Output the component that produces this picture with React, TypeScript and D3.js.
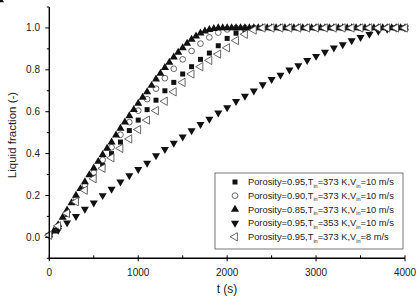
import React, { useEffect, useRef } from 'react';
import * as d3 from 'd3';

// sample times (s)
const times = d3.range(0, 4001, 100);
const timesFine = d3.range(0, 4001, 50);

// liquid fraction per case
const sq95 = [0.01, 0.05, 0.11, 0.17, 0.23, 0.29, 0.345, 0.4, 0.455, 0.51, 0.56, 0.61, 0.655, 0.7, 0.74, 0.78, 0.815, 0.85, 0.88, 0.915, 0.95, 0.975, 0.99, 1.0,
  1.0, 1.0, 1.0, 1.0, 1.0, 1.0, 1.0, 1.0, 1.0, 1.0, 1.0, 1.0, 1.0, 1.0, 1.0, 1.0, 1.0];
const circ90 = [0.01, 0.055, 0.12, 0.185, 0.25, 0.31, 0.37, 0.43, 0.49, 0.55, 0.605, 0.66, 0.71, 0.76, 0.805, 0.85, 0.89, 0.925, 0.955, 0.978, 0.993, 1.0,
  1.0, 1.0, 1.0, 1.0, 1.0, 1.0, 1.0, 1.0, 1.0, 1.0, 1.0, 1.0, 1.0, 1.0, 1.0, 1.0, 1.0, 1.0, 1.0];
// this case was saved every 50 s
const up85 = [0.01, 0.03, 0.06, 0.095, 0.13, 0.165, 0.2, 0.232, 0.265, 0.298, 0.33, 0.362, 0.395, 0.425, 0.455, 0.488, 0.52, 0.55, 0.58, 0.61,
  0.64, 0.668, 0.695, 0.725, 0.755, 0.783, 0.81, 0.835, 0.86, 0.883, 0.905, 0.926, 0.945, 0.961, 0.975, 0.985, 0.992, 0.997, 1.0,
  1.0, 1.0, 1.0, 1.0, 1.0, 1.0, 1.0, 1.0, 1.0, 1.0, 1.0, 1.0, 1.0, 1.0, 1.0, 1.0, 1.0, 1.0, 1.0, 1.0, 1.0, 1.0,
  1.0, 1.0, 1.0, 1.0, 1.0, 1.0, 1.0, 1.0, 1.0, 1.0, 1.0, 1.0, 1.0, 1.0, 1.0, 1.0, 1.0, 1.0, 1.0, 1.0, 1.0];
const down353 = [0.01, 0.035, 0.07, 0.1, 0.135, 0.165, 0.2, 0.23, 0.265, 0.295, 0.325, 0.355, 0.39, 0.42, 0.45, 0.48, 0.51, 0.54, 0.565, 0.595,
  0.62, 0.65, 0.675, 0.7, 0.73, 0.755, 0.775, 0.8, 0.82, 0.845, 0.865, 0.885, 0.905, 0.92, 0.94, 0.955, 0.97, 0.985, 0.995, 1.0, 1.0];
const left8 = [0.01, 0.055, 0.115, 0.17, 0.225, 0.28, 0.33, 0.38, 0.425, 0.47, 0.515, 0.56, 0.605, 0.65, 0.695, 0.74, 0.78, 0.815, 0.845, 0.875,
  0.905, 0.94, 0.97, 0.99, 1.0, 1.0, 1.0, 1.0, 1.0, 1.0, 1.0, 1.0, 1.0, 1.0, 1.0, 1.0, 1.0, 1.0, 1.0, 1.0, 1.0];

const legendLabels = [
  ['0.95', '373', '10'],
  ['0.90', '373', '10'],
  ['0.85', '373', '10'],
  ['0.95', '353', '10'],
  ['0.95', '373', '8'],
];

const xTicks = [0, 1000, 2000, 3000, 4000];
const yTicks = [0.0, 0.2, 0.4, 0.6, 0.8, 1.0];

const App = () => {
  const svgRef = useRef<SVGSVGElement>(null);

  useEffect(() => {
    const svg = d3.select(svgRef.current);
    svg.selectAll('*').remove();

    const x = d3.scaleLinear().domain([0, 4000]).range([49.3, 405]);
    const y = d3.scaleLinear().domain([-0.1, 1.1]).range([258.3, 7]);
    const font = 'Liberation Sans, Arial, sans-serif';
    const ink = '#000';

    // series definitions: marker type + fill
    const series = [
      { ts: times, vals: sq95, sym: d3.symbolSquare, size: 25, rot: 0, filled: true },
      { ts: times, vals: circ90, sym: d3.symbolCircle, size: 26, rot: 0, filled: false },
      { ts: timesFine, vals: up85, sym: d3.symbolTriangle, size: 28, rot: 0, filled: true },
      { ts: times, vals: down353, sym: d3.symbolTriangle, size: 28, rot: 180, filled: true },
      { ts: times, vals: left8, sym: d3.symbolTriangle, size: 30, rot: -90, filled: false },
    ];

    const drawMarker = (g, s, cx, cy) => {
      g.append('path')
        .attr('d', d3.symbol().type(s.sym).size(s.size)())
        .attr('transform', `translate(${cx},${cy}) rotate(${s.rot})`)
        .attr('fill', s.filled ? '#111' : '#fff')
        .attr('stroke', s.filled ? 'none' : '#444')
        .attr('stroke-width', 0.8);
    };

    const plot = svg.append('g');
    series.forEach(s => {
      s.vals.forEach((v, i) => drawMarker(plot, s, x(s.ts[i]), y(v)));
    });

    // axes
    const ax = svg.append('g').attr('stroke', ink).attr('stroke-width', 1.4);
    ax.append('line').attr('x1', x(0)).attr('x2', x(0)).attr('y1', y(1.1)).attr('y2', y(-0.1) + 1);
    ax.append('line').attr('x1', x(0)).attr('x2', x(4000)).attr('y1', y(-0.1)).attr('y2', y(-0.1));

    d3.range(-1, 12).forEach(k => {
      const major = k % 2 === 0;
      ax.append('line')
        .attr('x1', x(0) - (major ? 4 : 2.5)).attr('x2', x(0))
        .attr('y1', y(k / 10)).attr('y2', y(k / 10)).attr('stroke-width', 1);
    });
    d3.range(0, 4001, 500).forEach(t => {
      const major = t % 1000 === 0;
      ax.append('line')
        .attr('x1', x(t)).attr('x2', x(t))
        .attr('y1', y(-0.1) - 3).attr('y2', y(-0.1) + (major ? 3 : 0))
        .attr('stroke-width', 1);
    });

    svg.append('g').selectAll('text').data(yTicks).enter().append('text')
      .attr('x', 40).attr('y', d => y(d) + 3.5)
      .attr('text-anchor', 'end')
      .style('font-family', font).style('font-size', '10px').style('fill', '#222')
      .text(d => d.toFixed(1));

    svg.append('g').selectAll('text').data(xTicks).enter().append('text')
      .attr('x', d => x(d)).attr('y', 275.5)
      .attr('text-anchor', 'middle')
      .style('font-family', font).style('font-size', '10px').style('fill', '#222')
      .text(d => d);

    svg.append('text')
      .attr('transform', `translate(16,${135}) rotate(-90)`)
      .attr('text-anchor', 'middle')
      .style('font-family', font).style('font-size', '11.5px').style('fill', '#222')
      .text('Liquid fraction (-)');

    svg.append('text')
      .attr('x', 227).attr('y', 293)
      .attr('text-anchor', 'middle')
      .style('font-family', font).style('font-size', '12px').style('fill', '#222')
      .text('t (s)');

    // legend
    const lg = svg.append('g');
    lg.append('rect')
      .attr('x', 215).attr('y', 173).attr('width', 188).attr('height', 76)
      .attr('fill', '#fff').attr('stroke', '#555').attr('stroke-width', 0.8);
    legendLabels.forEach((lab, i) => {
      const ry = 182 + i * 13.7;
      drawMarker(lg, series[i], 235, ry);
      const t = lg.append('text')
        .attr('x', 248).attr('y', ry + 3.2)
        .style('font-family', font).style('font-size', '9.3px').style('fill', '#222');
      t.append('tspan').text(`Porosity=${lab[0]},T`);
      t.append('tspan').attr('dy', 2.5).style('font-size', '5.5px').text('in');
      t.append('tspan').attr('dy', -2.5).text(`=${lab[1]} K,V`);
      t.append('tspan').attr('dy', 2.5).style('font-size', '5.5px').text('in');
      t.append('tspan').attr('dy', -2.5).text(`=${lab[2]} m/s`);
    });
  }, []);

  return (
    <svg ref={svgRef} width={420} height={299}
      style={{ position: 'absolute', left: 0, top: 0, background: '#fff' }} />
  );
};

export default App;
